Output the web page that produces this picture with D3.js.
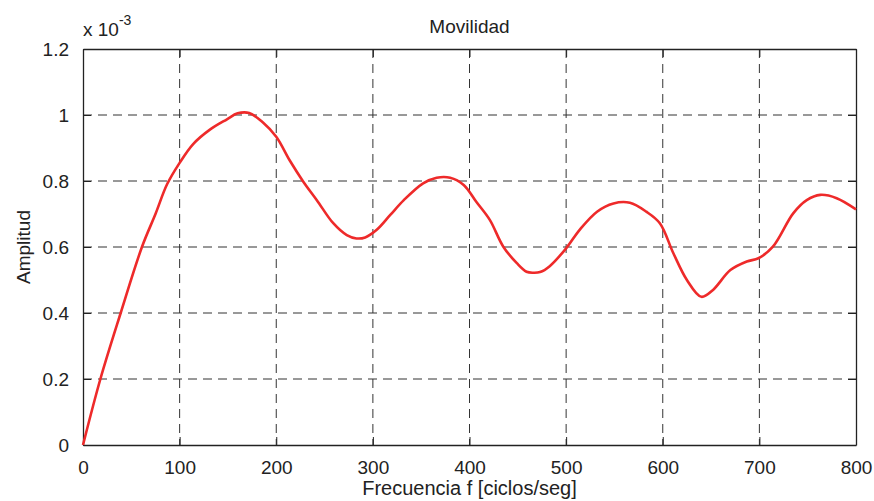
<!DOCTYPE html>
<html>
<head>
<meta charset="utf-8">
<script src="https://cdn.jsdelivr.net/npm/d3@7"></script>
<style>
    body { margin: 0; background: #fff; }
    text { font-family: "Liberation Sans", Arial, sans-serif; fill: #222; }
</style>
</head>
<body>
<div id="chart"></div>
<script>
// frequency (ciclos/seg) and amplitude (x 1e-3)
const freq = [0, 18, 39, 61, 75, 87, 100, 114, 131, 149, 160, 172, 186, 200, 214, 228, 242, 259, 273, 283,
    292, 304, 318, 332, 352, 366, 380, 394, 407, 421, 435, 449, 459, 466, 473, 483, 500, 514, 532, 549,
    566, 583, 597, 611, 625, 640, 652, 670, 687, 699, 714, 735, 749, 763, 780, 800];
const amp = [0, 0.2, 0.4, 0.6, 0.7, 0.79, 0.855, 0.912, 0.955, 0.987, 1.005, 1.006, 0.978, 0.934, 0.862, 0.798, 0.742, 0.672, 0.636, 0.626,
    0.629, 0.652, 0.697, 0.742, 0.793, 0.81, 0.81, 0.788, 0.737, 0.682, 0.601, 0.551, 0.525, 0.522, 0.524, 0.542, 0.596, 0.652, 0.707, 0.732,
    0.734, 0.707, 0.672, 0.581, 0.5, 0.449, 0.47, 0.53, 0.556, 0.566, 0.601, 0.702, 0.742, 0.758, 0.748, 0.714];
const xTicks = [0, 100, 200, 300, 400, 500, 600, 700, 800];
const yTicks = [0, 0.2, 0.4, 0.6, 0.8, 1, 1.2];

const data = freq.map((f, i) => ({f: f, a: amp[i]}));

const W = 874, H = 501;
const margin = {top: 49, right: 18, bottom: 56, left: 83};
const width = W - margin.left - margin.right;
const height = H - margin.top - margin.bottom;

const svg = d3.select('#chart').append('svg')
    .attr('width', W)
    .attr('height', H);

const chart = svg.append('g')
    .attr('transform', `translate(${margin.left},${margin.top})`);

const xScale = d3.scaleLinear().domain([0, 800]).range([0, width]);
const yScale = d3.scaleLinear().domain([0, 1.2]).range([height, 0]);

// dashed grid
chart.append('g')
    .selectAll('line')
    .data(xTicks.slice(1, -1))
    .join('line')
    .attr('x1', d => xScale(d)).attr('x2', d => xScale(d))
    .attr('y1', 0).attr('y2', height)
    .attr('stroke', '#333')
    .attr('stroke-dasharray', '9,6');

chart.append('g')
    .selectAll('line')
    .data(yTicks.slice(1, -1))
    .join('line')
    .attr('x1', 0).attr('x2', width)
    .attr('y1', d => yScale(d)).attr('y2', d => yScale(d))
    .attr('stroke', '#333')
    .attr('stroke-dasharray', '9,6');

// axes with inward ticks (matlab style)
const xAxis = d3.axisBottom(xScale).tickValues(xTicks).tickSize(-8).tickPadding(16).tickSizeOuter(0);
const yAxis = d3.axisLeft(yScale).tickValues(yTicks).tickSize(-8).tickPadding(14).tickSizeOuter(0)
    .tickFormat(d => d);

chart.append('g')
    .attr('transform', `translate(0,${height})`)
    .call(xAxis);
chart.append('g').call(yAxis);

chart.append('g')
    .call(d3.axisTop(xScale).tickValues(xTicks).tickSize(-8).tickFormat('').tickSizeOuter(0));
chart.append('g')
    .attr('transform', `translate(${width},0)`)
    .call(d3.axisRight(yScale).tickValues(yTicks).tickSize(-8).tickFormat('').tickSizeOuter(0));

chart.selectAll('.domain').attr('stroke', '#222').attr('stroke-width', 1.3);
chart.selectAll('.tick line').attr('stroke', '#222');
chart.selectAll('.tick text')
    .style('font-size', '19px')
    .style('font-family', '"Liberation Sans", Arial, sans-serif')
    .attr('fill', '#222');

// curve
const line = d3.line()
    .x(d => xScale(d.f))
    .y(d => yScale(d.a))
    .curve(d3.curveCatmullRom.alpha(0.5));

chart.append('path')
    .datum(data)
    .attr('fill', 'none')
    .attr('stroke', '#ee2a2a')
    .attr('stroke-width', 2.6)
    .attr('stroke-linejoin', 'round')
    .attr('d', line);

// titles
svg.append('text')
    .attr('x', margin.left + width / 2)
    .attr('y', 33)
    .attr('text-anchor', 'middle')
    .style('font-size', '19px')
    .text('Movilidad');

svg.append('text')
    .attr('x', margin.left + width / 2)
    .attr('y', 495)
    .attr('text-anchor', 'middle')
    .style('font-size', '20px')
    .text('Frecuencia f [ciclos/seg]');

svg.append('text')
    .attr('transform', `translate(30,${margin.top + height / 2}) rotate(-90)`)
    .attr('text-anchor', 'middle')
    .style('font-size', '19px')
    .text('Amplitud');

const expo = svg.append('text')
    .attr('x', 83)
    .attr('y', 36)
    .style('font-size', '19px');
expo.append('tspan').text('x 10');
expo.append('tspan').attr('dy', -11).style('font-size', '14px').text('-3');
</script>
</body>
</html>
